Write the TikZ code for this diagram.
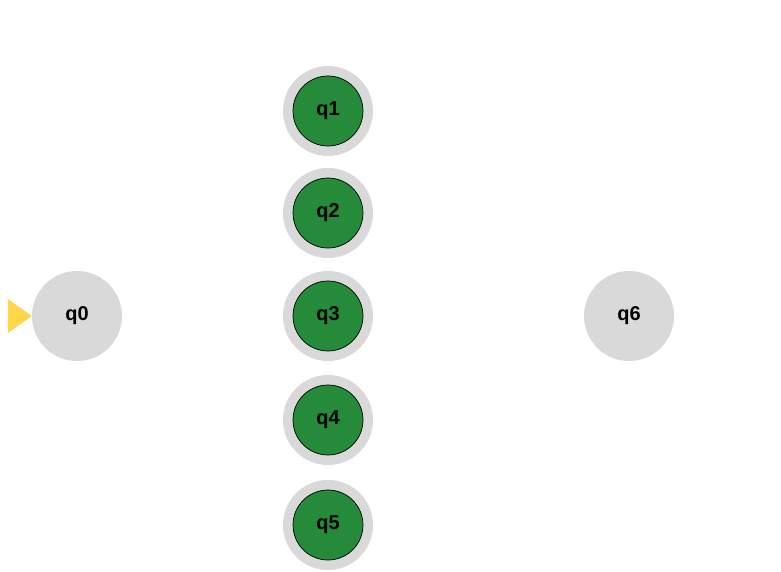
\documentclass[tikz,border=0pt]{standalone}
\usepackage{fontspec}
\setmainfont{Liberation Sans}
\definecolor{stategray}{HTML}{D9D9D9}
\definecolor{acceptgreen}{HTML}{258A3A}
\definecolor{startyellow}{HTML}{FFD54A}
\tikzset{
    state/.style={circle, fill=stategray, minimum size=90pt, inner sep=0pt,
        font=\fontsize{20}{24}\selectfont\bfseries},
    accepting/.style={state, fill=acceptgreen, draw=black, line width=0.7pt,
        minimum size=70pt, preaction={draw=stategray, line width=20pt}},
    startmark/.style={fill=startyellow}
}
\begin{document}
\begin{tikzpicture}[x=1pt, y=-1pt]
    \useasboundingbox (0, 0) rectangle (781, 571);

    \node[state] (q0) at (77, 316) {q0};
    \foreach \i/\y in {1/111, 2/213, 3/316, 4/420, 5/525} {
        \node[accepting] (q\i) at (328, \y) {q\i};
    }
    \node[state] (q6) at (629, 316) {q6};

    \fill[startmark] (q0.west) -- ++(-24, -17) -- ++(0, 34) -- cycle;
\end{tikzpicture}
\end{document}
